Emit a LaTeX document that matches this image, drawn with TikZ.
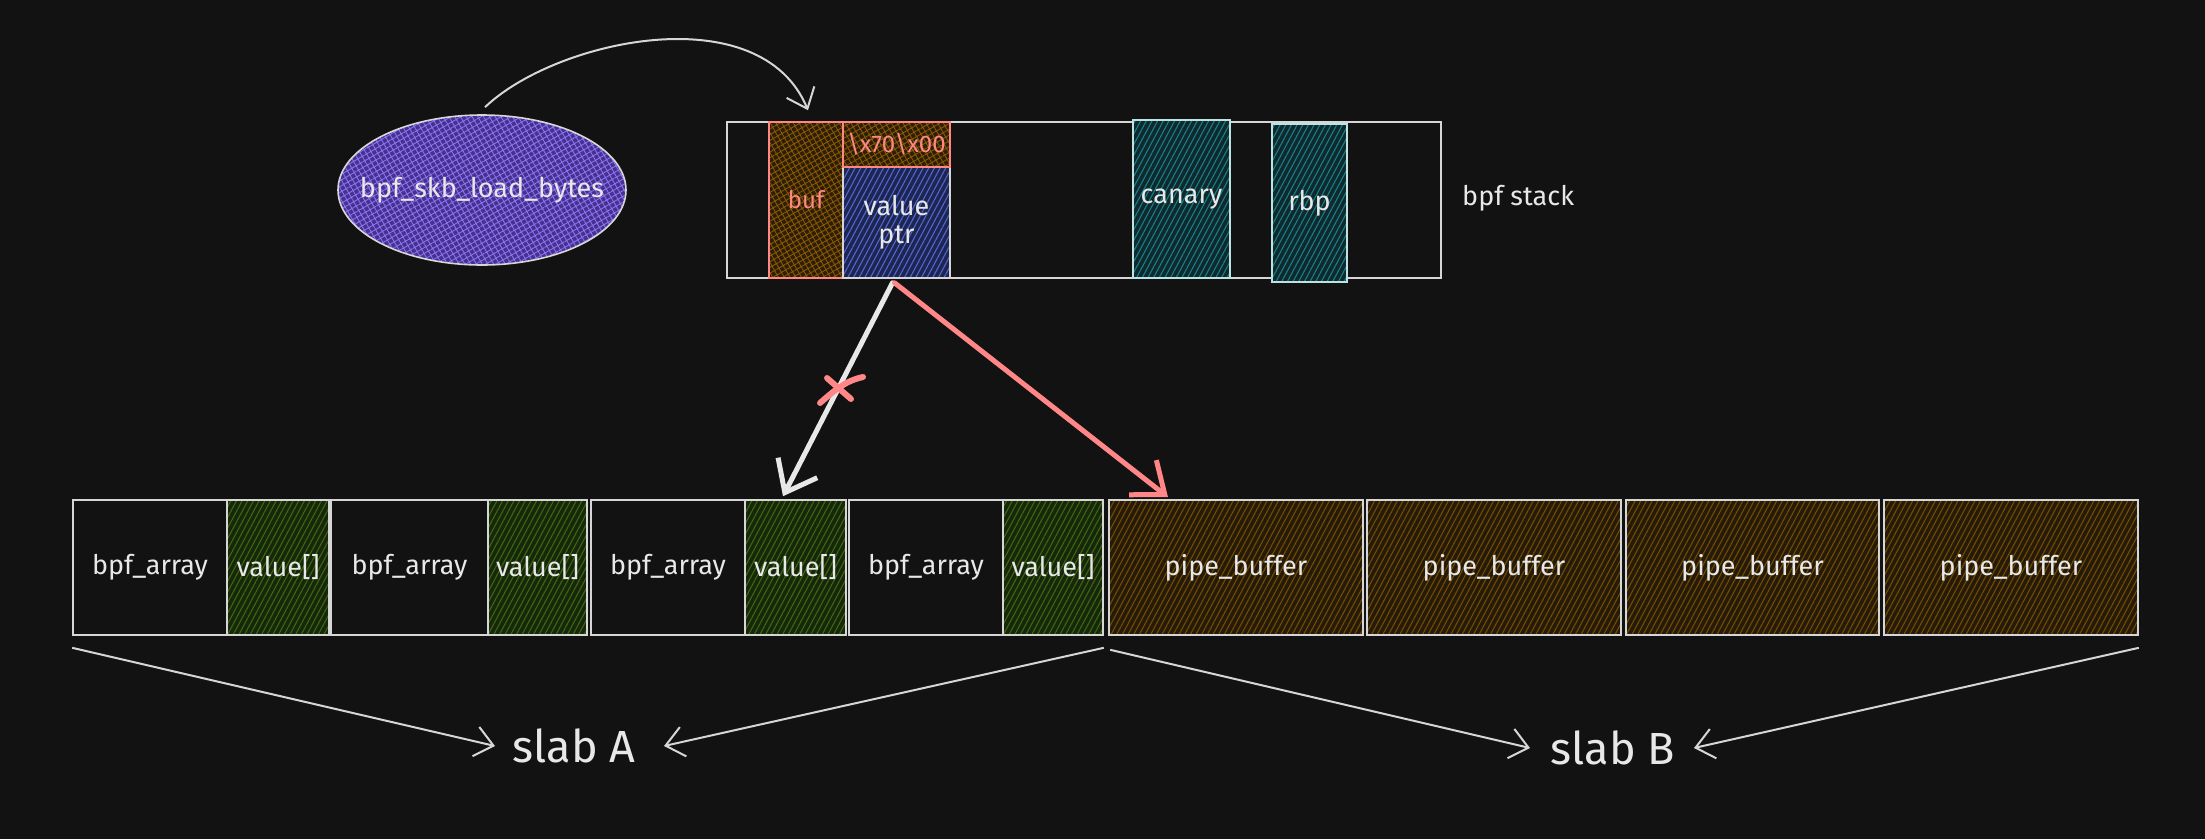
\documentclass[tikz,border=0pt]{standalone}
\usepackage{fontspec}
\setmainfont{Fira Sans}
\usetikzlibrary{arrows.meta,patterns.meta,shapes.geometric}
\definecolor{bg}{HTML}{121212}
\definecolor{linec}{HTML}{D6D6D6}
\definecolor{txt}{HTML}{E8E8E8}
\definecolor{redc}{HTML}{FF8787}
\definecolor{purpF}{HTML}{44338C}
\definecolor{purpL}{HTML}{8E70F2}
\definecolor{brownF}{HTML}{2C1E08}
\definecolor{brownL}{HTML}{8A5800}
\definecolor{blueF}{HTML}{1E2550}
\definecolor{blueL}{HTML}{5068D0}
\definecolor{tealF}{HTML}{10292C}
\definecolor{tealL}{HTML}{16808A}
\definecolor{greenF}{HTML}{18260C}
\definecolor{greenL}{HTML}{3A6A10}
\definecolor{pipeF}{HTML}{261B0A}
\definecolor{pipeL}{HTML}{744C00}
\newcommand\fmid{\fontsize{27}{31}\selectfont}
\newcommand\fsml{\fontsize{24}{28}\selectfont}
\newcommand\fbig{\fontsize{45}{52}\selectfont}
\tikzset{
  box/.style={draw=linec, line width=1.6pt, text=txt, font=\fmid, inner sep=0pt, align=center},
  hach/.style 2 args={preaction={fill=#1}, preaction={pattern={Lines[angle=62,distance=5pt,line width=1.1pt]}, pattern color=#2}},
  xhach/.style 2 args={preaction={fill=#1}, preaction={pattern={Hatch[angle=30,distance=5pt,line width=0.9pt]}, pattern color=#2}},
  thinarrow/.style={draw=linec, line width=2pt, -{Straight Barb[length=18pt,width=30pt,line width=2pt]}},
  fatarrow/.style={line width=5pt, line cap=round, -{Straight Barb[length=28pt,width=44pt,line width=5pt]}},
  cross/.style={draw=redc, line width=6pt, line cap=round},
  lbl/.style={text=txt, font=\fmid, inner sep=0pt},
}
\begin{document}
\begin{tikzpicture}[x=1pt,y=-1pt]
\fill[bg] (0,0) rectangle (2205,839);
\useasboundingbox (0,0) rectangle (2205,839);

% ellipse
\node[box, ellipse, xhach={purpF}{purpL}, minimum width=288pt, minimum height=150pt,
      label={[lbl]center:bpf\_skb\_load\_bytes}] (ell) at (482,190) {};

% stack
\node[box, minimum width=714pt, minimum height=156pt] (stack) at (1084,200) {};
\node[box, draw=redc, text=redc, font=\fsml, xhach={brownF}{brownL}, minimum width=74pt, minimum height=156pt] (buf) at (806,200) {buf};
\node[box, draw=linec, hach={blueF}{blueL}, minimum width=107pt, minimum height=111pt] (ptr) at (896.5,222.5) {value\\[-3pt]ptr};
\node[box, draw=redc, text=redc, font=\fsml, xhach={brownF}{brownL}, minimum width=107pt, minimum height=45pt] (x70) at (896.5,144.5) {\textbackslash x70\textbackslash x00};
\node[box, draw={rgb,255:red,190;green,225;blue,225}, hach={tealF}{tealL}, minimum width=97pt, minimum height=158pt] (canary) at (1181.5,199) {canary};
\node[box, draw={rgb,255:red,190;green,225;blue,225}, hach={tealF}{tealL}, minimum width=75pt, minimum height=158pt] (rbp) at (1309.5,203) {rbp};
\node[lbl, anchor=west] (stacklbl) at (1462,198) {bpf stack};

% curved arrow
\draw[thinarrow] ([xshift=3pt,yshift=7pt]ell.north) .. controls (555,40) and (760,-5) .. ([xshift=2pt,yshift=11pt]buf.north);

% bottom row
\node[box, minimum width=154pt, minimum height=135pt] (b1) at (150,567.5) {bpf\_array};
\node[box, hach={greenF}{greenL}, minimum width=102pt, minimum height=135pt] (v1) at (278,567.5) {value[]};
\node[box, minimum width=157pt, minimum height=135pt] (b2) at (409.5,567.5) {bpf\_array};
\node[box, hach={greenF}{greenL}, minimum width=99pt, minimum height=135pt] (v2) at (537.5,567.5) {value[]};
\node[box, minimum width=154pt, minimum height=135pt] (b3) at (668,567.5) {bpf\_array};
\node[box, hach={greenF}{greenL}, minimum width=101pt, minimum height=135pt] (v3) at (795.5,567.5) {value[]};
\node[box, minimum width=154pt, minimum height=135pt] (b4) at (926,567.5) {bpf\_array};
\node[box, hach={greenF}{greenL}, minimum width=100pt, minimum height=135pt] (v4) at (1053,567.5) {value[]};
\node[box, hach={pipeF}{pipeL}, minimum width=254pt, minimum height=135pt] (p1) at (1236,567.5) {pipe\_buffer};
\node[box, hach={pipeF}{pipeL}, minimum width=254pt, minimum height=135pt] (p2) at (1494,567.5) {pipe\_buffer};
\node[box, hach={pipeF}{pipeL}, minimum width=253pt, minimum height=135pt] (p3) at (1752.5,567.5) {pipe\_buffer};
\node[box, hach={pipeF}{pipeL}, minimum width=254pt, minimum height=135pt] (p4) at (2011,567.5) {pipe\_buffer};

% middle arrows
\draw[fatarrow, draw=txt] ([xshift=-4pt,yshift=-4pt]ptr.south) -- ([xshift=-12.5pt,yshift=3pt]v3.north);
\draw[fatarrow, draw=redc] ([xshift=-2pt,yshift=-4pt]ptr.south) -- ([xshift=-68pt,yshift=2pt]p1.north);
\draw[cross] (827,378) -- (851,399);
\draw[cross] (820,403) .. controls (835,390) and (845,381) .. (863,377);

% slab labels
\node[text=txt, font=\fbig, inner sep=0pt] (slabA) at (574,746) {slab A};
\node[text=txt, font=\fbig, inner sep=0pt] (slabB) at (1613,748) {slab B};

\draw[thinarrow] ([yshift=-12pt]b1.south west) -- ([xshift=-79pt]slabA.center);
\draw[thinarrow] ([yshift=-12pt]v4.south east) -- ([xshift=90pt]slabA.center);
\draw[thinarrow] ([xshift=2pt,yshift=-14pt]p1.south west) -- ([xshift=-83pt]slabB.center);
\draw[thinarrow] ([yshift=-12pt]p4.south east) -- ([xshift=81pt]slabB.center);
\end{tikzpicture}
\end{document}
